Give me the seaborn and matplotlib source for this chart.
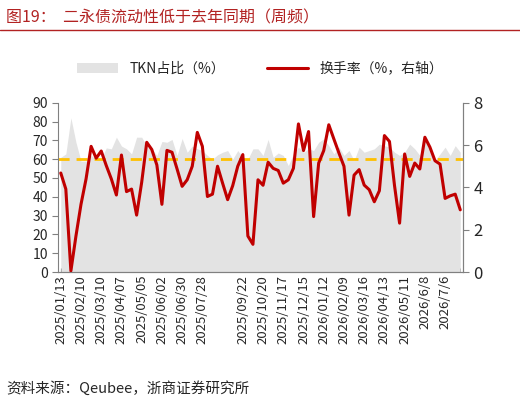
import matplotlib
matplotlib.use("Agg")
import matplotlib.pyplot as plt
import seaborn as sns
import numpy as np
import pandas as pd

sns.set_style("white")
plt.rcParams['font.family'] = ['Noto Sans CJK SC', 'DejaVu Sans']

turnover = [4.68,3.92,0.05,1.7,3.2,4.4,5.94,5.38,5.72,5.03,4.4,3.64,5.53,3.8,3.92,2.69,4.24,6.13,5.79,5.06,
            3.2,5.75,5.66,4.87,4.05,4.36,5.0,6.6,5.94,3.57,3.68,5.0,4.2,3.42,4.08,5.0,5.55,1.7,1.31,4.36,
            4.1,5.19,4.9,4.8,4.2,4.36,4.9,7.0,5.74,6.64,2.62,5.15,5.74,6.96,6.29,5.63,5.0,2.69,4.58,4.84,
            4.11,3.89,3.32,3.84,6.45,6.17,4.08,2.31,5.58,4.52,5.15,4.87,6.37,5.9,5.26,5.1,3.48,3.6,3.68,2.94]
tkn = [61,62.8,82,69,59,59,62,60,60,66,65.5,71.7,67,65.5,62.8,71.7,71.7,67,65.5,62,
       69.4,69,70.5,62,71,63.7,67,65.5,64.6,62,60,62.3,63.7,64.6,60,64.6,61,60,65.5,65.5,
       62,70.5,61,63.3,62,56.6,62.8,66.4,63.7,65.5,64.6,69,70.8,67.2,62.8,66.4,62,64.6,59.3,66.4,
       63.7,64.6,65.5,68,67.2,66.4,63.7,62,63.7,68,65.5,62,70.8,64.6,59.3,62.8,66.4,62,67.2,63.7]
tick_idx = [0,4,8,12,16,20,24,28,36,40,44,48,52,56,60,64,68,72,76]
tick_labels = ["2025/01/13","2025/02/10","2025/03/10","2025/04/07","2025/05/05","2025/06/02",
               "2025/06/30","2025/07/28","2025/09/22","2025/10/20","2025/11/17","2025/12/15",
               "2026/01/12","2026/02/09","2026/03/16","2026/04/13","2026/05/11","2026/6/8","2026/7/6"]
ref_level = 60

df = pd.DataFrame({"i": np.arange(len(turnover)), "turn": turnover, "tkn": tkn})

fig = plt.figure(figsize=(5.2, 4.03), dpi=100)
ax = fig.add_axes([0.112, 0.325, 0.778, 0.42])
ax.fill_between(df["i"], df["tkn"], color="#e3e3e3", lw=0, label="TKN占比（%）")
ax.axhline(ref_level, color="#ffc000", ls=(0, (4, 2.5)), lw=2)
ax.set_ylim(0, 90)
ax.set_yticks(range(0, 91, 10))
ax.set_xlim(-0.5, len(turnover) - 0.5)
ax.set_xticks(df["i"], minor=True)
ax.set_xticks(tick_idx)
ax.set_xticklabels(tick_labels, rotation=90, fontsize=9.5)
ax.tick_params(axis="x", which="both", direction="in", length=3, bottom=True, pad=2)
ax.tick_params(axis="y", labelsize=10, left=True, length=4, color="#808080")
ax2 = ax.twinx()
sns.lineplot(data=df, x="i", y="turn", ax=ax2, color="#c00000", lw=2.2, label="换手率（%，右轴）", legend=False)
ax2.set_ylim(0, 8)
ax2.set_yticks(range(0, 9, 2))
ax2.tick_params(axis="y", labelsize=12, right=True, length=4, color="#808080")
ax2.set_xlabel(""); ax2.set_ylabel(""); ax.set_ylabel("")
for a in (ax, ax2):
    for s in ["top"]:
        a.spines[s].set_visible(False)
    for s in ["left", "right", "bottom"]:
        a.spines[s].set_color("#808080")
ax2.spines["left"].set_visible(False)

h1, l1 = ax.get_legend_handles_labels()
h2, l2 = ax2.get_legend_handles_labels()
fig.legend(h1 + h2, l1 + l2, loc="center", bbox_to_anchor=(0.5, 0.83), ncol=2, frameon=False,
           fontsize=10, handlelength=3, columnspacing=3)

fig.text(0.012, 0.955, "图19：  二永债流动性低于去年同期（周频）", fontsize=11.5, color="#b22222", va="center")
fig.add_artist(plt.Line2D([0.0, 1.0], [0.925, 0.925], color="#b22222", lw=1))
fig.text(0.012, 0.035, "资料来源：Qeubee，浙商证券研究所", fontsize=10.5, va="center")
fig.savefig("out.png", dpi=100)
